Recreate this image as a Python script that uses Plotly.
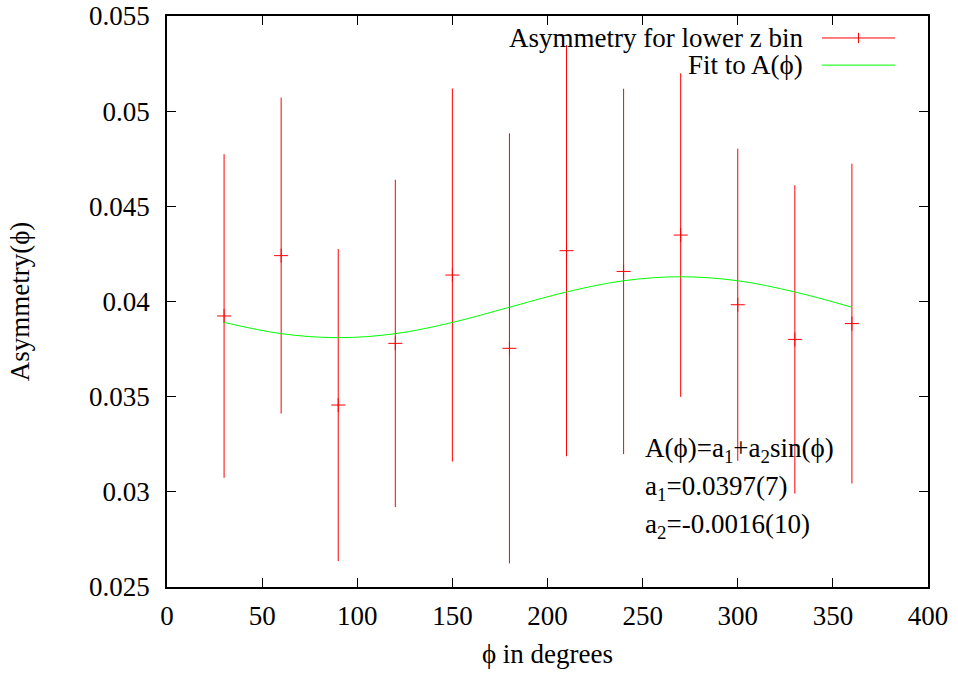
import plotly.graph_objects as go

# ---- data ----
phi = [30, 60, 90, 120, 150, 180, 210, 240, 270, 300, 330, 360]
asym = [0.03924, 0.04241, 0.03456, 0.03780, 0.04139, 0.03754,
        0.04267, 0.04158, 0.04349, 0.03983, 0.03801, 0.03884]
asym_err = [0.0085, 0.0083, 0.0082, 0.0086, 0.0098, 0.0113,
            0.0108, 0.0096, 0.0085, 0.0082, 0.0081, 0.0084]

fit_phi = [30, 60, 90, 120, 150, 180, 210, 240, 270, 300, 330, 360]
fit_val = [0.03890, 0.03831, 0.03810, 0.03831, 0.03890, 0.03970,
           0.04050, 0.04109, 0.04130, 0.04109, 0.04050, 0.03970]

x_ticks = [0, 50, 100, 150, 200, 250, 300, 350, 400]
y_ticks = [0.025, 0.03, 0.035, 0.04, 0.045, 0.05, 0.055]
y_tick_text = ["0.025", "0.03", "0.035", "0.04", "0.045", "0.05", "0.055"]

FONT = "serif"
FS = 27
RED = "#ff0000"
GREEN = "#00ff00"
TXT = dict(family=FONT, size=FS, color="black")

fig = go.Figure()
fig.add_trace(go.Scatter(
    x=phi, y=asym, mode="markers",
    marker=dict(symbol="cross-thin", size=10, line=dict(color=RED, width=1), color=RED),
    error_y=dict(type="data", array=asym_err, visible=True, color=RED, thickness=1, width=0),
    showlegend=False, name="Asymmetry for lower z bin"))
fig.add_trace(go.Scatter(
    x=fit_phi, y=fit_val, mode="lines", line=dict(color=GREEN, width=1, shape="spline"),
    showlegend=False, name="Fit to A(\u03d5)"))

axis_common = dict(showline=True, linecolor="black", linewidth=1.5, mirror="allticks",
                   ticks="inside", ticklen=9, tickcolor="black", tickwidth=1,
                   showgrid=False, zeroline=False, tickfont=TXT, automargin=False)

fig.update_xaxes(range=[0, 400], tickvals=x_ticks, ticklabelstandoff=4, **axis_common,
                 title=dict(text="\u03d5 in degrees", font=TXT, standoff=14))
fig.update_yaxes(range=[0.025, 0.055], tickvals=y_ticks, ticktext=y_tick_text,
                 ticklabelstandoff=10, **axis_common,
                 title=dict(text="Asymmetry(\u03d5)", font=TXT, standoff=52))

# manual gnuplot-style legend (text left of sample)
legend_items = [("Asymmetry for lower z bin", RED, True), ("Fit to A(\u03d5)", GREEN, False)]
shapes = []
annotations = []
for i, (label, col, has_marker) in enumerate(legend_items):
    yp = 0.9615 - i * 0.0475
    annotations.append(dict(xref="paper", yref="paper", x=0.8386, y=yp, text=label,
                            showarrow=False, xanchor="right", yanchor="middle", font=TXT))
    shapes.append(dict(type="line", xref="paper", yref="paper", x0=0.8607, x1=0.9566,
                       y0=yp, y1=yp, line=dict(color=col, width=1)))
    if has_marker:
        shapes.append(dict(type="line", xref="paper", yref="paper", x0=0.9087, x1=0.9087,
                           y0=yp - 0.009, y1=yp + 0.009, line=dict(color=col, width=1)))

fit_text = ["A(\u03d5)=a<sub>1</sub>+a<sub>2</sub>sin(\u03d5)",
            "a<sub>1</sub>=0.0397(7)",
            "a<sub>2</sub>=-0.0016(10)"]
for i, t in enumerate(fit_text):
    annotations.append(dict(xref="x", yref="y", x=250, y=0.0322 - i * 0.002, text=t,
                            showarrow=False, xanchor="left", yanchor="middle", font=TXT))

fig.update_layout(width=958, height=674, margin=dict(l=167, r=30, t=16, b=87),
                  font=TXT,
                  paper_bgcolor="white", plot_bgcolor="white",
                  shapes=shapes, annotations=annotations)

fig.write_html("out.html")
